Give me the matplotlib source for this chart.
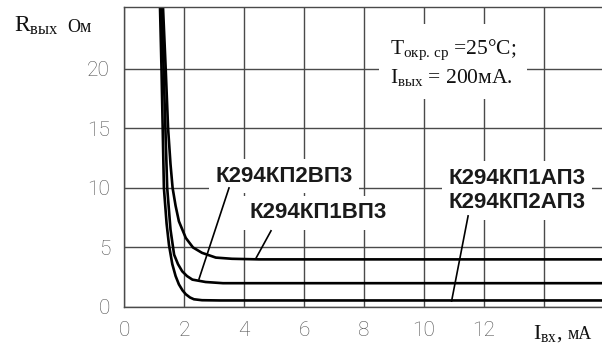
import matplotlib
matplotlib.use("Agg")
import matplotlib.pyplot as plt

# Output resistance vs input current, three device groups
i_1vp3 = [1.30, 1.39, 1.47, 1.55, 1.62, 1.72, 1.83, 2.06, 2.30, 2.60, 3.06, 3.60, 4.50, 16.0]
r_1vp3 = [25.2, 20.0, 15.0, 12.0, 10.0, 8.5, 7.2, 5.8, 5.0, 4.55, 4.15, 4.05, 4.0, 4.0]

i_2vp3 = [1.25, 1.32, 1.38, 1.44, 1.55, 1.67, 1.80, 1.94, 2.10, 2.28, 2.72, 3.30, 16.0]
r_2vp3 = [25.2, 20.0, 15.0, 10.0, 6.5, 4.4, 3.6, 3.0, 2.6, 2.3, 2.1, 2.0, 2.0]

i_ap3 = [1.20, 1.25, 1.29, 1.33, 1.42, 1.50, 1.61, 1.72, 1.83, 1.95, 2.06, 2.20, 2.33, 2.60, 3.20, 16.0]
r_ap3 = [25.2, 20.0, 15.0, 10.0, 7.0, 5.2, 3.6, 2.6, 1.9, 1.4, 1.07, 0.8, 0.65, 0.57, 0.55, 0.55]

x_ticks = [0, 2, 4, 6, 8, 10, 12, 14]
x_tick_labels = ["0", "2", "4", "6", "8", "10", "12", ""]
y_ticks = [0, 5, 10, 15, 20]

label_2vp3 = "К294КП2ВП3"
label_1vp3 = "К294КП1ВП3"
label_ap3 = "К294КП1АП3\nК294КП2АП3"

# leader lines: (text end) -> (curve point), in data units
lead_2vp3 = ([3.5, 2.5], [10.0, 2.35])
lead_1vp3 = ([4.9, 4.4], [6.4, 4.1])
lead_ap3 = ([11.47, 10.92], [7.65, 0.5])

W, H = 602, 347


def fx(px):
    return px / W


def fy(py):
    return 1 - py / H


plt.rcParams['mathtext.fontset'] = 'custom'
plt.rcParams['mathtext.rm'] = 'Liberation Serif'
plt.rcParams['mathtext.it'] = 'Liberation Serif:italic'

fig = plt.figure(figsize=(W / 100, H / 100), dpi=100)
ax = fig.add_axes([fx(124), fy(307), (W - 124) / W, 300 / H])

grid_color = '#4a4a4a'
ax.set_xlim(0, (W - 124) / 30)
ax.set_ylim(0, 25.2)
ax.set_xticks(x_ticks)
ax.set_xticklabels(x_tick_labels)
ax.set_yticks(y_ticks)
ax.tick_params(length=0, pad=10, labelcolor='#505050', labelsize=15)
for lab in ax.get_xticklabels() + ax.get_yticklabels():
    lab.set_family(['Roboto', 'DejaVu Sans'])
    lab.set_fontweight('light')
ax.grid(True, color=grid_color, linewidth=1.0, zorder=0.5)
ax.set_axisbelow(True)
for side in ['left', 'top', 'bottom']:
    ax.spines[side].set_color(grid_color)
    ax.spines[side].set_linewidth(1.0)
ax.spines['right'].set_visible(False)

for xs, ys in [(i_1vp3, r_1vp3), (i_2vp3, r_2vp3), (i_ap3, r_ap3)]:
    ax.plot(xs, ys, color='black', linewidth=1.9, solid_joinstyle='round', zorder=2)

box = dict(boxstyle='square,pad=0.3', fc='white', ec='none')
lab_font = dict(fontsize=16, fontweight='bold', family='Liberation Sans',
                color='#1a1a1a', ha='center', va='center', zorder=3, bbox=box)
ax.text(5.33, 11.0, label_2vp3, **lab_font)
ax.text(6.47, 7.92, label_1vp3, **lab_font)
ax.text(13.1, 9.8, label_ap3, linespacing=1.2, **lab_font)

for xs, ys in [lead_2vp3, lead_1vp3, lead_ap3]:
    ax.plot(xs, ys, color='black', linewidth=1.2, zorder=4)

# conditions note
ax.text(8.86, 20.5,
        r'$\mathrm{T}_{\mathrm{окр.\,ср}}$ =25°C;' + '\n' + r'$\mathrm{I}_{\mathrm{вых}}$ = 200мА.',
        fontsize=15.5, family='Liberation Serif', color='#111111', ha='left', va='center',
        linespacing=1.3, zorder=3,
        bbox=dict(boxstyle='square,pad=0.5', fc='white', ec='none'))

# axis names
fig.text(fx(14), fy(32), r'$\mathrm{R}_{\mathrm{вых}}$', fontsize=17, color='#111111',
         family='Liberation Serif', va='baseline', ha='left')
fig.text(fx(67), fy(32), 'Ом', fontsize=13, color='#111111',
         family='Liberation Serif', va='baseline', ha='left')
fig.text(fx(533), fy(339), r'$\mathrm{I}_{\mathrm{вх}}$,', fontsize=16, color='#111111',
         family='Liberation Serif', va='baseline', ha='left')
fig.text(fx(568), fy(339), 'мА', fontsize=13, color='#111111',
         family='Liberation Serif', va='baseline', ha='left')

fig.savefig('out.png', dpi=100)
